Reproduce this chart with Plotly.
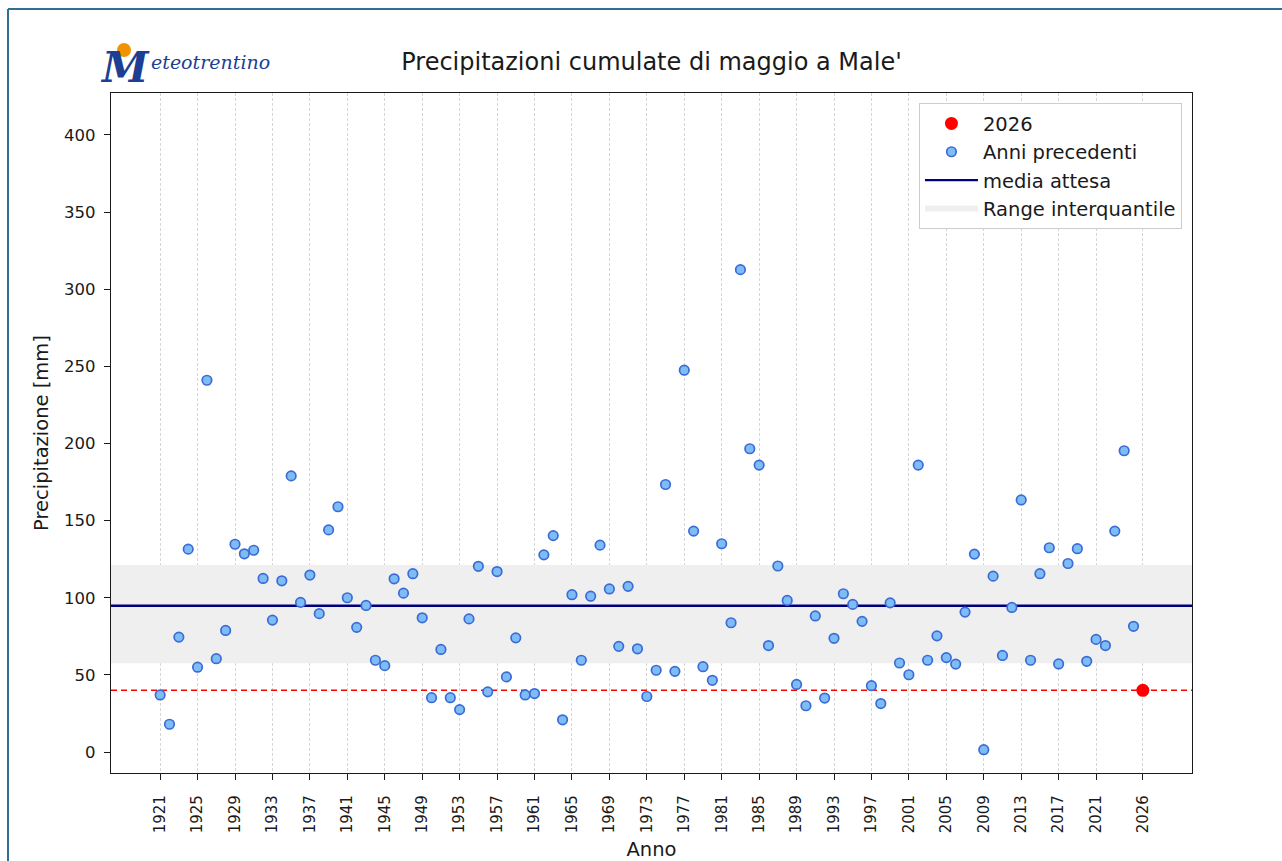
import plotly.graph_objects as go

# ---------------- data ----------------
years_prev = list(range(1921, 2026))
precip_prev = [
    37.0, 18.0, 74.5, 131.5, 55.0, 241.0, 60.5, 78.8, 134.7, 128.5,
    130.8, 112.5, 85.5, 111.0, 179.0, 97.0, 114.7, 89.7, 144.0, 159.0,
    100.0, 80.8, 95.0, 59.5, 56.0, 112.3, 103.0, 115.6, 87.0, 35.2,
    66.5, 35.2, 27.5, 86.3, 120.4, 39.0, 117.0, 48.7, 74.0, 37.0,
    37.9, 127.8, 140.3, 20.9, 102.0, 59.5, 101.0, 134.1, 105.7, 68.5,
    107.4, 66.9, 36.0, 53.0, 173.4, 52.3, 247.5, 143.2, 55.3, 46.5,
    135.0, 83.8, 312.7, 196.6, 186.0, 69.0, 120.6, 98.3, 43.8, 30.0,
    88.2, 35.0, 73.7, 102.6, 95.7, 84.7, 43.0, 31.4, 96.7, 57.7,
    50.1, 186.0, 59.5, 75.3, 61.2, 57.0, 90.7, 128.3, 1.5, 114.0,
    62.6, 93.7, 163.4, 59.5, 115.6, 132.4, 57.1, 122.2, 131.8, 58.8,
    73.0, 69.0, 143.2, 195.3, 81.5,
]
year_current = [2026]
precip_current = [40.0]
media_attesa = 94.8
q1 = 57.5
q3 = 121.2

tick_years = list(range(1921, 2022, 4)) + [2026]
tick_labels = [str(y) for y in tick_years]
y_ticks = list(range(0, 401, 50))

x_range = [1915.75, 2031.25]
y_range = [-13.6, 427.2]

# ---------------- figure ----------------
fig = go.Figure()

# interquartile band
fig.add_trace(go.Scatter(
    x=[x_range[0], x_range[1], x_range[1], x_range[0], x_range[0]],
    y=[q1, q1, q3, q3, q1],
    fill="toself", fillcolor="#efefef", mode="none",
    name="Range interquantile", legendrank=4, hoverinfo="skip",
))

# mean line
fig.add_trace(go.Scatter(
    x=x_range, y=[media_attesa, media_attesa], mode="lines",
    line=dict(color="#00007f", width=2.4),
    name="media attesa", legendrank=3,
))

# current value dashed line
fig.add_trace(go.Scatter(
    x=x_range, y=[precip_current[0], precip_current[0]], mode="lines",
    line=dict(color="#ff0000", width=1.4, dash="6px,4px"),
    showlegend=False, hoverinfo="skip",
))

# previous years
fig.add_trace(go.Scatter(
    x=years_prev, y=precip_prev, mode="markers",
    marker=dict(size=9.5, color="#7dbcf5", line=dict(color="#3b6bd6", width=1.7)),
    name="Anni precedenti", legendrank=2,
))

# current year
fig.add_trace(go.Scatter(
    x=year_current, y=precip_current, mode="markers",
    marker=dict(size=13, color="#ff0000"),
    name="2026", legendrank=1,
))

font_family = "DejaVu Sans"

fig.update_layout(
    width=1282, height=861,
    margin=dict(l=111, r=90, t=93, b=88, autoexpand=False),
    paper_bgcolor="white", plot_bgcolor="white",
    font=dict(family=font_family, color="#1a1a1a", size=16),
    title=dict(
        text="Precipitazioni cumulate di maggio a Male'",
        x=0.5, xref="paper", xanchor="center",
        y=1 - 62 / 861, yanchor="middle", yref="container",
        font=dict(size=24, family=font_family, color="#1a1a1a"),
    ),
    showlegend=True,
    legend=dict(
        x=0.9907, y=0.985, xanchor="right", yanchor="top",
        bgcolor="white", bordercolor="#cccccc", borderwidth=1,
        font=dict(size=19.5, family=font_family, color="#1a1a1a"),
        itemwidth=53, tracegroupgap=2,
    ),
    xaxis=dict(
        range=x_range, tickmode="array", tickvals=tick_years, ticktext=tick_labels,
        tickangle=-90, tickfont=dict(size=15), ticklabelstandoff=9,
        ticks="outside", ticklen=6, tickcolor="#1a1a1a",
        showgrid=True, gridcolor="#d6d6d6", griddash="3px,2px", gridwidth=0.8,
        showline=True, linecolor="#1a1a1a", linewidth=1.3, mirror=True,
        zeroline=False, automargin=False,
        title=dict(text="Anno", font=dict(size=19.5), standoff=12),
    ),
    yaxis=dict(
        range=y_range, tickmode="array", tickvals=y_ticks,
        tickfont=dict(size=16.5), ticklabelstandoff=5,
        ticks="outside", ticklen=6, tickcolor="#1a1a1a",
        showgrid=False,
        showline=True, linecolor="#1a1a1a", linewidth=1.3, mirror=True,
        zeroline=False, automargin=False,
        title=dict(text="Precipitazione [mm]", font=dict(size=19.5), standoff=10),
    ),
)

# outer frame of the picture (top and left edges)
def px_x(px):
    return (px - 111) / 1081

def px_y(py):
    return 1 - (py - 93) / 680

fig.add_shape(type="line", xref="paper", yref="paper",
              x0=px_x(8), x1=px_x(1300), y0=px_y(9), y1=px_y(9),
              line=dict(color="#2f6f95", width=2))
fig.add_shape(type="line", xref="paper", yref="paper",
              x0=px_x(8), x1=px_x(8), y0=px_y(9), y1=px_y(900),
              line=dict(color="#2f6f95", width=2))

# logo: Meteotrentino
fig.add_shape(type="circle", xref="paper", yref="paper",
              x0=px_x(117), x1=px_x(131), y0=px_y(57), y1=px_y(43),
              fillcolor="#f39200", line=dict(width=0))
fig.add_annotation(xref="paper", yref="paper", x=px_x(125), y=px_y(68),
                   text="<b><i>M</i></b>", showarrow=False,
                   font=dict(family="DejaVu Serif", size=42, color="#1c3f94"),
                   xanchor="center", yanchor="middle")
fig.add_annotation(xref="paper", yref="paper", x=px_x(149), y=px_y(62),
                   text="<i>eteotrentino</i>", showarrow=False,
                   font=dict(family="DejaVu Serif", size=19, color="#1c3f94"),
                   xanchor="left", yanchor="middle")

fig.write_html("out.html", config={"displayModeBar": False},
               post_script="document.body.style.margin='0';")
